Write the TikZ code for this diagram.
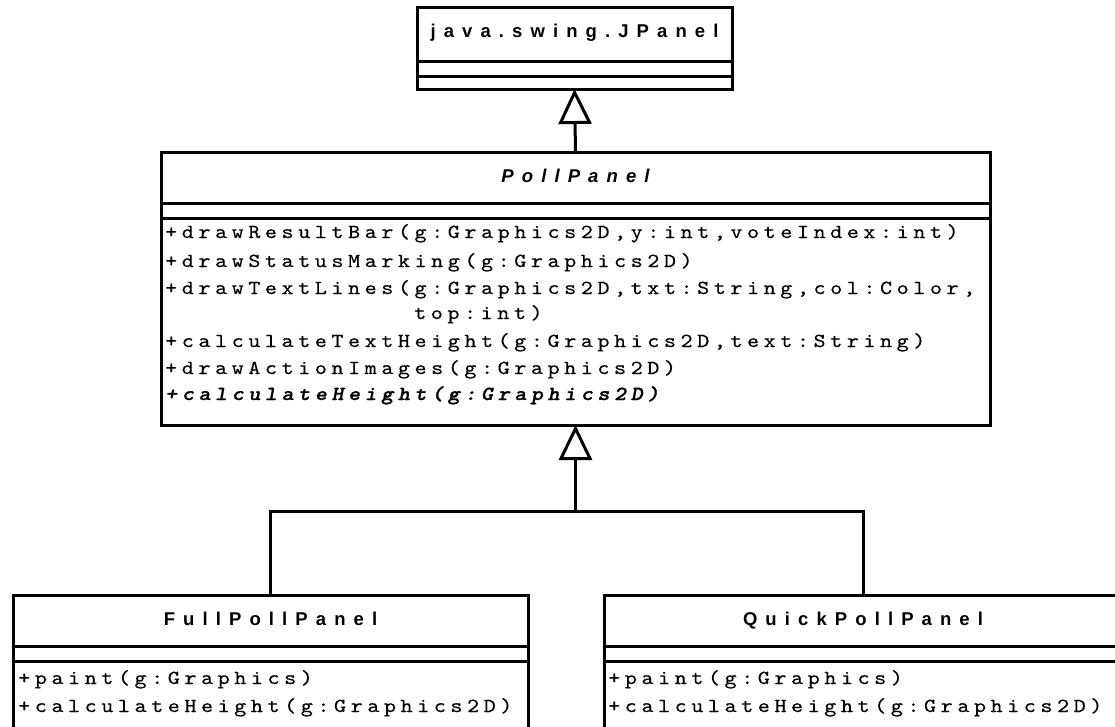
\documentclass[tikz,border=0pt]{standalone}
\usepackage{fontspec}
\usetikzlibrary{arrows.meta}
\newfontfamily\umlsans{Liberation Sans}
\newfontfamily\umlmono{lmmono10-regular.otf}[
  FakeStretch=1.15, FakeBold=0.25,
  BoldItalicFont=lmmonolt10-boldoblique.otf,
  BoldItalicFeatures={FakeStretch=1.15, FakeBold=1}]

% letter-spaced text: every character followed by a fixed kern
\makeatletter
\newcommand\tracked[2]{\def\trk@amt{#1}\trk@loop#2\relax}
\def\trk@loop#1{\ifx\relax#1\unkern\else#1\kern\trk@amt\relax\expandafter\trk@loop\fi}
\makeatother

\tikzset{
  uml/.style={line width=3pt},
  classbox/.style={draw, line width=3pt, rectangle, inner sep=0pt, outer sep=0pt},
  classname/.style={font=\umlsans\bfseries\fontsize{18.5}{20}\selectfont, inner sep=0pt, anchor=base},
  abstractname/.style={font=\umlsans\bfseries\itshape\fontsize{18.5}{20}\selectfont, inner sep=0pt, anchor=base},
  method/.style={font=\umlmono\fontsize{20}{22}\selectfont, inner sep=0pt, anchor=base west},
  abstractmethod/.style={font=\umlmono\bfseries\itshape\fontsize{20}{22}\selectfont, inner sep=0pt, anchor=base west},
  inherit/.style={line width=3pt, -{Triangle[open, length=35pt, width=33pt]}},
}
\newcommand\mt[1]{\tracked{4.55pt}{#1}}
\newcommand\nm[1]{\tracked{8.1pt}{#1}}

\begin{document}
\begin{tikzpicture}[x=1pt, y=-1pt]
\useasboundingbox (0,0) rectangle (1115,726);
\clip (0,0) rectangle (1115,726);
\fill[white] (0,0) rectangle (1115,726);

% class boxes
\node[classbox, minimum width=315pt, minimum height=82pt] (jpanel) at (574.5,48) {};
\node[classbox, minimum width=829pt, minimum height=273pt] (poll) at (575.5,288.5) {};
\node[classbox, minimum width=515pt, minimum height=250pt] (full) at (270.5,720) {};
\node[classbox, minimum width=518pt, minimum height=250pt] (quick) at (863,720) {};

% compartment separators
\draw[uml] (417,61) -- (732,61);
\draw[uml] (417,76) -- (732,76);
\draw[uml] (161,203) -- (990,203);
\draw[uml] (161,218) -- (990,218);
\draw[uml] (13,646) -- (528,646);
\draw[uml] (13,661) -- (528,661);
\draw[uml] (604,646) -- (1122,646);
\draw[uml] (604,661) -- (1122,661);

% class names
\node[classname] (jpname) at (574.5,37) {\nm{java.swing.JPanel}};
\node[abstractname] (pollname) at (575.5,182) {\nm{PollPanel}};
\node[classname] (fullname) at (270.5,625) {\nm{FullPollPanel}};
\node[classname] (quickname) at (863,625) {\nm{QuickPollPanel}};

% operations of PollPanel
\node[method] (m1) at (165,238) {\mt{+drawResultBar(g:Graphics2D,y:int,voteIndex:int)}};
\node[method] (m2) at (165,267) {\mt{+drawStatusMarking(g:Graphics2D)}};
\node[method] (m3) at (165,294) {\mt{+drawTextLines(g:Graphics2D,txt:String,col:Color,}};
\node[method] (m3b) at (414,319) {\mt{top:int)}};
\node[method] (m4) at (165,347) {\mt{+calculateTextHeight(g:Graphics2D,text:String)}};
\node[method] (m5) at (165,374) {\mt{+drawActionImages(g:Graphics2D)}};
\node[abstractmethod] (m6) at (165,400) {\mt{+calculateHeight(g:Graphics2D)}};

% operations of the subclasses
\node[method] (f1) at (18,684) {\mt{+paint(g:Graphics)}};
\node[method] (f2) at (18,712) {\mt{+calculateHeight(g:Graphics2D)}};
\node[method] (q1) at (608,684) {\mt{+paint(g:Graphics)}};
\node[method] (q2) at (608,712) {\mt{+calculateHeight(g:Graphics2D)}};

% generalisations
\draw[inherit] (poll.north) -- (jpanel.south);
\coordinate (hub) at (575.5,511);
\draw[uml] (full.north) |- (hub) -| (quick.north);
\draw[inherit] (hub) -- (poll.south);
\end{tikzpicture}
\end{document}
